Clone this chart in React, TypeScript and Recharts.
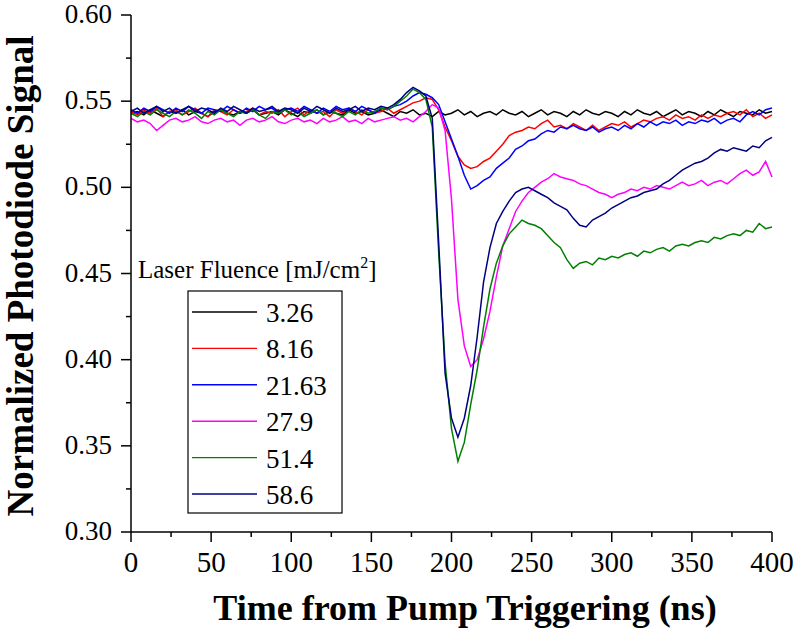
import React from 'react';
import { LineChart, Line, XAxis, YAxis, Legend, Label } from 'recharts';

// time axis (ns), sampled every 4 ns
const TIME = [
  0, 4, 8, 12, 16, 20, 24, 28, 32, 36, 40, 44, 48, 52, 56, 60, 64, 68, 72, 76, 80, 84, 88, 92, 96,
  100, 104, 108, 112, 116, 120, 124, 128, 132, 136, 140, 144, 148, 152, 156, 160, 164, 168, 172, 176, 180, 184, 188, 192, 196,
  200, 204, 208, 212, 216, 220, 224, 228, 232, 236, 240, 244, 248, 252, 256, 260, 264, 268, 272, 276, 280, 284, 288, 292, 296,
  300, 304, 308, 312, 316, 320, 324, 328, 332, 336, 340, 344, 348, 352, 356, 360, 364, 368, 372, 376, 380, 384, 388, 392, 396,
  400,
];

const F_326 = [
  0.543, 0.544, 0.542, 0.545, 0.543, 0.541, 0.544, 0.543, 0.545, 0.542, 0.544, 0.543, 0.541, 0.544, 0.545, 0.543, 0.542, 0.544, 0.543, 0.545, 0.542, 0.543, 0.544, 0.542, 0.545,
  0.543, 0.541, 0.544, 0.543, 0.545, 0.542, 0.544, 0.543, 0.542, 0.545, 0.543, 0.544, 0.542, 0.543, 0.545, 0.543, 0.541, 0.544, 0.543, 0.545, 0.542, 0.543, 0.541, 0.544, 0.542,
  0.543, 0.545, 0.542, 0.544, 0.541, 0.543, 0.544, 0.542, 0.545, 0.543, 0.542, 0.544, 0.541, 0.543, 0.545, 0.542, 0.544, 0.543, 0.541, 0.544, 0.542, 0.545, 0.543, 0.542, 0.544,
  0.543, 0.541, 0.544, 0.542, 0.545, 0.543, 0.542, 0.544, 0.541, 0.543, 0.545, 0.542, 0.544, 0.543, 0.541, 0.544, 0.542, 0.545, 0.543, 0.541, 0.544, 0.543, 0.542, 0.545, 0.543,
  0.544,
];

const F_816 = [
  0.544, 0.542, 0.545, 0.543, 0.546, 0.541, 0.544, 0.545, 0.542, 0.544, 0.546, 0.543, 0.541, 0.545, 0.544, 0.542, 0.545, 0.543, 0.544, 0.546, 0.542, 0.544, 0.543, 0.545, 0.541,
  0.544, 0.546, 0.542, 0.545, 0.543, 0.544, 0.541, 0.545, 0.543, 0.546, 0.544, 0.542, 0.545, 0.543, 0.544, 0.546, 0.543, 0.545, 0.547, 0.549, 0.550, 0.552, 0.551, 0.545, 0.535,
  0.527, 0.518, 0.513, 0.511, 0.512, 0.515, 0.517, 0.521, 0.525, 0.530, 0.532, 0.533, 0.535, 0.534, 0.537, 0.539, 0.535, 0.536, 0.534, 0.537, 0.535, 0.533, 0.536, 0.533, 0.535,
  0.537, 0.536, 0.538, 0.535, 0.537, 0.539, 0.538, 0.540, 0.541, 0.539, 0.542, 0.540, 0.541, 0.539, 0.542, 0.540, 0.542, 0.541, 0.543, 0.544, 0.542, 0.545, 0.541, 0.543, 0.540,
  0.542,
];

const F_2163 = [
  0.545, 0.543, 0.546, 0.544, 0.547, 0.545, 0.543, 0.546, 0.544, 0.547, 0.545, 0.543, 0.546, 0.545, 0.544, 0.547, 0.545, 0.543, 0.546, 0.544, 0.547, 0.545, 0.546, 0.543, 0.545,
  0.546, 0.544, 0.547, 0.545, 0.543, 0.546, 0.544, 0.547, 0.545, 0.546, 0.544, 0.547, 0.545, 0.543, 0.546, 0.545, 0.547, 0.548, 0.550, 0.553, 0.555, 0.554, 0.552, 0.548, 0.538,
  0.528, 0.518, 0.507, 0.499, 0.501, 0.504, 0.506, 0.511, 0.514, 0.517, 0.522, 0.524, 0.527, 0.528, 0.531, 0.533, 0.532, 0.535, 0.534, 0.536, 0.534, 0.533, 0.535, 0.532, 0.534,
  0.535, 0.533, 0.536, 0.534, 0.537, 0.535, 0.538, 0.536, 0.538, 0.537, 0.539, 0.536, 0.538, 0.537, 0.539, 0.538, 0.540, 0.537, 0.539, 0.540, 0.538, 0.542, 0.544, 0.542, 0.545,
  0.546,
];

const F_279 = [
  0.540, 0.538, 0.539, 0.537, 0.533, 0.536, 0.539, 0.540, 0.538, 0.539, 0.541, 0.538, 0.537, 0.539, 0.540, 0.538, 0.539, 0.536, 0.539, 0.540, 0.538, 0.539, 0.541, 0.538, 0.537,
  0.539, 0.540, 0.538, 0.539, 0.537, 0.540, 0.538, 0.539, 0.541, 0.538, 0.539, 0.537, 0.540, 0.538, 0.539, 0.540, 0.541, 0.539, 0.540, 0.538, 0.541, 0.544, 0.548, 0.546, 0.533,
  0.493, 0.435, 0.408, 0.396, 0.400, 0.412, 0.428, 0.448, 0.466, 0.476, 0.486, 0.492, 0.497, 0.500, 0.503, 0.505, 0.508, 0.506, 0.505, 0.504, 0.502, 0.501, 0.499, 0.497, 0.496,
  0.494, 0.496, 0.497, 0.499, 0.498, 0.500, 0.499, 0.501, 0.500, 0.499, 0.501, 0.503, 0.501, 0.502, 0.504, 0.501, 0.503, 0.504, 0.502, 0.505, 0.508, 0.510, 0.507, 0.509, 0.515,
  0.506,
];

const F_514 = [
  0.543, 0.541, 0.544, 0.542, 0.545, 0.543, 0.541, 0.544, 0.542, 0.545, 0.543, 0.540, 0.544, 0.542, 0.545, 0.543, 0.541, 0.544, 0.543, 0.545, 0.542, 0.540, 0.544, 0.543, 0.545,
  0.542, 0.544, 0.541, 0.543, 0.545, 0.542, 0.544, 0.543, 0.541, 0.544, 0.542, 0.545, 0.543, 0.544, 0.546, 0.545, 0.547, 0.550, 0.553, 0.557, 0.555, 0.551, 0.535, 0.462, 0.398,
  0.360, 0.341, 0.352, 0.374, 0.394, 0.419, 0.441, 0.456, 0.466, 0.473, 0.477, 0.481, 0.479, 0.478, 0.476, 0.472, 0.468, 0.465, 0.458, 0.453, 0.456, 0.457, 0.455, 0.459, 0.458,
  0.460, 0.459, 0.461, 0.462, 0.460, 0.463, 0.462, 0.464, 0.465, 0.463, 0.466, 0.467, 0.466, 0.468, 0.469, 0.468, 0.471, 0.470, 0.472, 0.473, 0.472, 0.475, 0.474, 0.479, 0.476,
  0.477,
];

const F_586 = [
  0.544, 0.546, 0.543, 0.545, 0.547, 0.544, 0.546, 0.543, 0.545, 0.547, 0.544, 0.546, 0.545, 0.543, 0.546, 0.544, 0.547, 0.545, 0.543, 0.546, 0.544, 0.545, 0.547, 0.544, 0.546,
  0.545, 0.543, 0.546, 0.544, 0.547, 0.545, 0.543, 0.546, 0.544, 0.545, 0.547, 0.544, 0.546, 0.545, 0.547, 0.546, 0.548, 0.551, 0.555, 0.558, 0.556, 0.553, 0.540, 0.468, 0.392,
  0.366, 0.355, 0.366, 0.385, 0.413, 0.445, 0.465, 0.479, 0.486, 0.492, 0.497, 0.499, 0.500, 0.498, 0.496, 0.494, 0.491, 0.489, 0.487, 0.482, 0.478, 0.477, 0.481, 0.483, 0.485,
  0.488, 0.490, 0.492, 0.494, 0.495, 0.497, 0.498, 0.499, 0.502, 0.504, 0.507, 0.510, 0.512, 0.514, 0.515, 0.517, 0.520, 0.522, 0.521, 0.523, 0.522, 0.521, 0.524, 0.523, 0.527,
  0.529,
];

const FLUENCES = ['3.26', '8.16', '21.63', '27.9', '51.4', '58.6'];
const SERIES_VALUES = [F_326, F_816, F_2163, F_279, F_514, F_586];
const COLORS = ['#000000', '#ff0000', '#0000ff', '#ff00ff', '#008000', '#000080'];

const X_TICKS = [0, 25, 50, 75, 100, 125, 150, 175, 200, 225, 250, 275, 300, 325, 350, 375, 400];
const Y_TICKS = [0.3, 0.325, 0.35, 0.375, 0.4, 0.425, 0.45, 0.475, 0.5, 0.525, 0.55, 0.575, 0.6];

const SERIF = '"Liberation Serif", "Times New Roman", serif';

const data = TIME.map((t, i) => {
  const row: Record<string, number> = { t };
  FLUENCES.forEach((f, k) => {
    row[`f${k}`] = SERIES_VALUES[k][i];
  });
  return row;
});

const XTick = (props: any) => {
  const { x, y, payload, index } = props;
  const major = index % 2 === 0;
  return (
    <g>
      <line x1={x} x2={x} y1={y} y2={y + (major ? 10 : 5)} stroke="#000" strokeWidth={1.5} />
      {major && (
        <text x={x} y={y + 40} textAnchor="middle" fontFamily={SERIF} fontSize={29} fill="#000">
          {payload.value}
        </text>
      )}
    </g>
  );
};

const YTick = (props: any) => {
  const { x, y, payload, index } = props;
  const major = index % 2 === 0;
  return (
    <g>
      <line x1={x} x2={x - (major ? 10 : 5)} y1={y} y2={y} stroke="#000" strokeWidth={1.5} />
      {major && (
        <text x={x - 19} y={y + 8} textAnchor="end" fontFamily={SERIF} fontSize={27} fill="#000">
          {payload.value.toFixed(2)}
        </text>
      )}
    </g>
  );
};

const FluenceLegend = ({ payload }: any) => {
  const colorOf = (name: string, k: number) => {
    const item = (payload || []).find((p: any) => p.value === name);
    return item ? item.color : COLORS[k];
  };
  return (
    <svg width={230} height={270} style={{ overflow: 'visible' }}>
      <text x={8} y={28} fontFamily={SERIF} fontSize={25} fill="#000">
        Laser Fluence [mJ/cm
        <tspan dy={-10} fontSize={16}>2</tspan>
        <tspan dy={10}>]</tspan>
      </text>
      <rect x={58} y={41} width={154} height={222} fill="#fff" stroke="#000" strokeWidth={1.2} />
      {FLUENCES.map((f, k) => {
        const cy = 62 + k * 36.4;
        return (
          <g key={f}>
            <line x1={62} x2={127} y1={cy} y2={cy} stroke={colorOf(f, k)} strokeWidth={1.4} />
            <text x={136} y={cy + 10} fontFamily={SERIF} fontSize={27} fill="#000">
              {f}
            </text>
          </g>
        );
      })}
    </svg>
  );
};

export default function App() {
  return (
    <div style={{ position: 'absolute', left: 0, top: 0, width: 800, height: 639, background: '#fff' }}>
      <LineChart width={800} height={639} data={data} margin={{ top: 15, right: 28, left: 0, bottom: 0 }}>
        <XAxis
          dataKey="t"
          type="number"
          domain={[0, 400]}
          ticks={X_TICKS}
          interval={0}
          height={107}
          tickSize={0}
          tickMargin={0}
          tickLine={false}
          tick={<XTick />}
          axisLine={{ stroke: '#000', strokeWidth: 1.5 }}
        >
          <Label
            content={() => (
              <text x={465} y={620} textAnchor="middle" fontFamily={SERIF} fontSize={36} fontWeight="bold" fill="#000">
                Time from Pump Triggering (ns)
              </text>
            )}
          />
        </XAxis>
        <YAxis
          type="number"
          domain={[0.3, 0.6]}
          ticks={Y_TICKS}
          interval={0}
          width={131}
          allowDataOverflow
          tickSize={0}
          tickMargin={0}
          tickLine={false}
          tick={<YTick />}
          axisLine={{ stroke: '#000', strokeWidth: 1.5 }}
        >
          <Label
            content={() => (
              <text
                x={33}
                y={276}
                transform="rotate(-90, 33, 276)"
                textAnchor="middle"
                fontFamily={SERIF}
                fontSize={37}
                fontWeight="bold"
                fill="#000"
              >
                Normalized Photodiode Signal
              </text>
            )}
          />
        </YAxis>
        {FLUENCES.map((f, k) => (
          <Line
            key={f}
            dataKey={`f${k}`}
            name={f}
            type="linear"
            stroke={COLORS[k]}
            strokeWidth={1.5}
            dot={false}
            isAnimationActive={false}
          />
        ))}
        <Legend
          layout="horizontal"
          align="center"
          verticalAlign="middle"
          content={<FluenceLegend />}
          wrapperStyle={{ left: 130, top: 250, width: 230, height: 270 }}
        />
      </LineChart>
    </div>
  );
}
